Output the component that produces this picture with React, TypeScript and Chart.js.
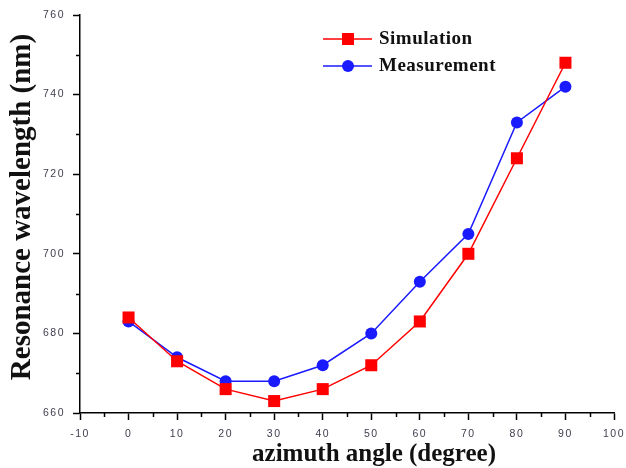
import React, { useEffect, useRef } from "react";
import { Chart, registerables } from "chart.js";

Chart.register(...registerables);

const angles = [0, 10, 20, 30, 40, 50, 60, 70, 80, 90];
const simulation = [684, 673, 666, 663, 666, 672, 683, 700, 724, 748];
const measurement = [683, 674, 668, 668, 672, 680, 693, 705, 733, 742];
const seriesLabels = ["Simulation", "Measurement"];
const xTitle = "azimuth angle (degree)";
const yTitle = "Resonance wavelength (nm)";

const RED = "#ff0000";
const BLUE = "#1a1aff";
const SERIF = "'Liberation Serif', 'Times New Roman', serif";

const spacing = {
  id: "spacing",
  beforeDraw(chart: any) {
    chart.ctx.letterSpacing = "1.5px";
  },
  beforeDatasetsDraw(chart: any) {
    chart.ctx.letterSpacing = "0px";
  },
};

const minorTicks = {
  id: "minorTicks",
  afterDraw(chart: any) {
    const { ctx, chartArea } = chart;
    const xs = chart.scales.x;
    const ys = chart.scales.y;
    ctx.save();
    ctx.letterSpacing = "0px";
    ctx.strokeStyle = "#000";
    ctx.lineWidth = 1.5;
    for (let v = -5; v < 100; v += 10) {
      const px = Math.round(xs.getPixelForValue(v)) + 0.5;
      ctx.beginPath();
      ctx.moveTo(px, chartArea.bottom);
      ctx.lineTo(px, chartArea.bottom + 4);
      ctx.stroke();
    }
    for (let v = 670; v < 760; v += 20) {
      const py = Math.round(ys.getPixelForValue(v)) + 0.5;
      ctx.beginPath();
      ctx.moveTo(chartArea.left - 4, py);
      ctx.lineTo(chartArea.left, py);
      ctx.stroke();
    }
    // axis titles
    ctx.fillStyle = "#111";
    ctx.textAlign = "center";
    ctx.textBaseline = "middle";
    ctx.font = `bold 25px ${SERIF}`;
    ctx.fillText(xTitle, 374, 455);
    ctx.save();
    ctx.translate(23, 207);
    ctx.rotate(-Math.PI / 2);
    ctx.font = `bold 29px ${SERIF}`;
    ctx.fillText(yTitle, 0, 0);
    ctx.restore();
    ctx.restore();
  },
};

const customLegend = {
  id: "customLegend",
  afterDraw(chart: any) {
    const { ctx } = chart;
    const items = [
      { label: seriesLabels[0], color: RED, style: "rect", y: 39 },
      { label: seriesLabels[1], color: BLUE, style: "circle", y: 66 },
    ];
    ctx.save();
    ctx.letterSpacing = "0.5px";
    for (const it of items) {
      ctx.strokeStyle = it.color;
      ctx.fillStyle = it.color;
      ctx.lineWidth = 1.5;
      ctx.beginPath();
      ctx.moveTo(323, it.y);
      ctx.lineTo(372, it.y);
      ctx.stroke();
      if (it.style === "rect") {
        ctx.fillRect(348 - 6, it.y - 6, 12, 12);
      } else {
        ctx.beginPath();
        ctx.arc(348, it.y, 6, 0, Math.PI * 2);
        ctx.fill();
      }
      ctx.fillStyle = "#111";
      ctx.font = `bold 19px ${SERIF}`;
      ctx.textBaseline = "middle";
      ctx.textAlign = "left";
      ctx.fillText(it.label, 379, it.y);
    }
    ctx.restore();
  },
};

export default function App() {
  const ref = useRef<HTMLCanvasElement>(null);
  useEffect(() => {
    document.body.style.margin = "0";
    const canvas = ref.current!;
    const tickFont = { family: "'Liberation Sans', Arial, sans-serif", size: 10.5 };
    const chart = new Chart(canvas, {
      type: "line",
      data: {
        datasets: [
          {
            label: seriesLabels[0],
            data: angles.map((a, i) => ({ x: a, y: simulation[i] })),
            borderColor: RED,
            backgroundColor: RED,
            borderWidth: 1.5,
            pointStyle: "rect",
            pointRadius: 8.5,
            pointBorderWidth: 0,
          },
          {
            label: seriesLabels[1],
            data: angles.map((a, i) => ({ x: a, y: measurement[i] })),
            borderColor: BLUE,
            backgroundColor: BLUE,
            borderWidth: 1.5,
            pointStyle: "circle",
            pointRadius: 6,
            pointBorderWidth: 0,
          },
        ],
      },
      options: {
        animation: false,
        responsive: false,
        devicePixelRatio: 1,
        layout: { padding: { left: 0, right: 12, top: 15, bottom: 0 } },
        plugins: { legend: { display: false }, tooltip: { enabled: false } },
        scales: {
          x: {
            type: "linear",
            min: -10,
            max: 100,
            ticks: {
              stepSize: 10,
              color: "#404050",
              font: tickFont,
              padding: 8,
              maxRotation: 0,
            },
            grid: {
              drawOnChartArea: false,
              tickLength: 7,
              tickColor: "#000",
              tickWidth: 1.5,
            },
            border: { color: "#000", width: 1.5 },
            afterFit: (s: any) => {
              s.height = 55;
              s.paddingLeft = 0;
              s.paddingRight = 0;
            },
          },
          y: {
            min: 660,
            max: 760,
            ticks: {
              stepSize: 20,
              color: "#404050",
              font: tickFont,
              padding: 8,
            },
            grid: {
              drawOnChartArea: false,
              tickLength: 7,
              tickColor: "#000",
              tickWidth: 1.5,
            },
            border: { color: "#000", width: 1.5 },
            afterFit: (s: any) => {
              s.width = 80;
              s.paddingTop = 0;
              s.paddingBottom = 0;
            },
          },
        },
      },
      plugins: [spacing, minorTicks, customLegend],
    } as any);
    return () => chart.destroy();
  }, []);
  return (
    <div style={{ width: 626, height: 468, background: "#fff" }}>
      <canvas ref={ref} width={626} height={468} />
    </div>
  );
}
